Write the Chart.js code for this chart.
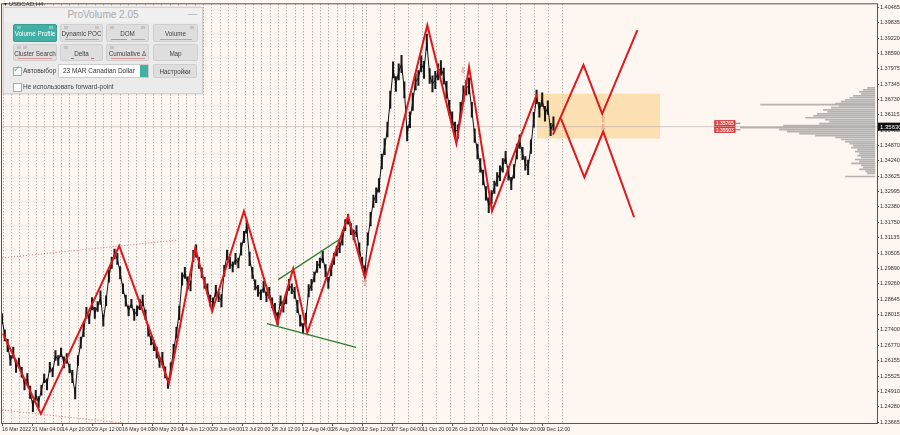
<!DOCTYPE html>
<html>
<head>
<meta charset="utf-8">
<script src="https://cdn.jsdelivr.net/npm/chart.js@4.4.1/dist/chart.umd.min.js"></script>
<style>
  html, body { margin: 0; padding: 0; background: #fdf6f1; }
  #wrap { position: relative; width: 900px; height: 435px; overflow: hidden; }
  #chart { position: absolute; left: 0; top: 0; }
  .sym { position: absolute; left: 4px; top: 0px; font: 6px "Liberation Sans", Arial, sans-serif; color: #333; }
  .panel { position: absolute; left: 3px; top: 7px; width: 198px; height: 85px; background: #ebebeb;
           border: 1px solid #d2d2d2; box-shadow: 0 0 2px rgba(0,0,0,0.2); font-family: "Liberation Sans", Arial, sans-serif; }
  .title { position: absolute; left: 0; top: 0; width: 198px; height: 14px; background: #f0f0f0;
           text-align: center; font-size: 10px; line-height: 14px; color: #a9a9a9; }
  .min { position: absolute; right: 5px; top: 1px; font-size: 9px; color: #999; }
  .btn { position: absolute; background: #dedede; border: 1px solid #cfcfcf; border-radius: 2px; font-size: 6.3px; color: #444;
         text-align: center; box-sizing: border-box; white-space: nowrap; }
  .btn span { position: absolute; left: 0; right: 0; top: 5px; }
  .btn i { position: absolute; bottom: 1px; height: 1px; background: #d99; }
  .btn b { position: absolute; top: 1px; width: 4px; height: 3px; background: #c4c4c4; }
  .btn.on { background: #43b0a6; border-color: #3a9e95; color: #fff; }
  .chk { position: absolute; width: 7px; height: 7px; background: #fff; border: 1px solid #aaa; }
  .lbl { position: absolute; font-size: 6.5px; color: #444; white-space: nowrap; }
  .sel { position: absolute; left: 54px; top: 56px; width: 91px; height: 14px; background: #fff; border: 1px solid #ccc;
         box-sizing: border-box; font-size: 6.5px; color: #333; line-height: 12px; padding-left: 4px; white-space: nowrap; }
  .spin { position: absolute; right: 0; top: 0; width: 8px; height: 12px; background: #43b0a6; }
</style>
</head>
<body>
<div id="wrap">
  <canvas id="chart" width="900" height="435"></canvas>
  <div class="sym">▾ USDCAD,H4</div>
  <div class="panel">
    <div class="title">ProVolume 2.05</div>
    <div class="min">—</div>
    <div class="btn on" style="left:9px;top:16px;width:44px;height:18px;"><b style="left:3px;background:#7cc9c2"></b><b style="right:3px;background:#7cc9c2"></b><span>Volume Profile</span></div>
    <div class="btn" style="left:56px;top:16px;width:43px;height:18px;"><b style="left:3px"></b><b style="right:3px"></b><span>Dynamic POC</span><i style="left:4px;width:34px;"></i></div>
    <div class="btn" style="left:102px;top:16px;width:43px;height:18px;"><b style="left:3px"></b><b style="right:3px"></b><span>DOM</span><i style="left:4px;width:16px;background:#7b7;"></i><i style="left:24px;width:14px;"></i></div>
    <div class="btn" style="left:149px;top:16px;width:45px;height:18px;"><b style="right:3px"></b><span>Volume</span><i style="left:6px;width:32px;"></i></div>
    <div class="btn" style="left:9px;top:36px;width:44px;height:17px;"><b style="left:3px"></b><b style="left:9px"></b><span>Cluster Search</span><i style="left:4px;width:34px;"></i></div>
    <div class="btn" style="left:56px;top:36px;width:43px;height:17px;"><b style="left:3px"></b><span>Delta</span><i style="left:10px;width:3px;background:#686;"></i><i style="left:30px;width:3px;background:#c66;"></i></div>
    <div class="btn" style="left:102px;top:36px;width:43px;height:17px;"><b style="left:3px"></b><span>Cumulative Δ</span><i style="left:4px;width:34px;"></i></div>
    <div class="btn" style="left:149px;top:36px;width:45px;height:17px;"><span>Map</span></div>
    <div class="chk" style="left:9px;top:59px;"></div>
    <div class="lbl" style="left:9px;top:56px;color:#43b0a6;font-size:9px;">✓</div>
    <div class="lbl" style="left:19px;top:59px;">Автовыбор</div>
    <div class="sel">23 MAR Canadian Dollar<div class="spin"></div></div>
    <div class="btn" style="left:149px;top:56px;width:44px;height:14px;"><span style="top:3px;">Настройки</span></div>
    <div class="chk" style="left:9px;top:75px;"></div>
    <div class="lbl" style="left:19px;top:75px;">Не использовать forward-point</div>
  </div>
</div>
<script>
// time axis: one label every 64 H4 bars
const timeLabels = ['16 Mar 2022', '31 Mar 04:00', '14 Apr 20:00', '29 Apr 12:00', '16 May 04:00', '30 May 20:00',
  '14 Jun 12:00', '29 Jun 04:00', '13 Jul 20:00', '28 Jul 12:00', '12 Aug 04:00', '26 Aug 20:00', '12 Sep 12:00',
  '27 Sep 04:00', '11 Oct 20:00', '26 Oct 12:00', '10 Nov 04:00', '24 Nov 20:00', '9 Dec 12:00'];
const barsPerLabel = 64;

const priceTicks = [1.40465, 1.39835, 1.39220, 1.38590, 1.37975, 1.37345, 1.36730, 1.36115, 1.35485, 1.34870,
  1.34240, 1.33625, 1.32995, 1.32380, 1.31750, 1.31135, 1.30505, 1.29890, 1.29260, 1.28645, 1.28015, 1.27400,
  1.26770, 1.26155, 1.25525, 1.24910, 1.24280, 1.23665];

// USDCAD price, one value every 6 bars
const priceStep = 6;
const prices = [1.2785, 1.2717, 1.2676, 1.2616, 1.2648, 1.2592, 1.2608, 1.2568, 1.2519, 1.2543,
  1.2487, 1.2431, 1.2475, 1.2447, 1.2495, 1.2543, 1.2519, 1.2588, 1.2568, 1.2636,
  1.2616, 1.2648, 1.2608, 1.2624, 1.2584, 1.2551, 1.2483, 1.2616, 1.2688, 1.2737,
  1.2809, 1.2785, 1.2846, 1.2809, 1.2834, 1.2870, 1.2777, 1.2858, 1.2958, 1.3011,
  1.3047, 1.3027, 1.2971, 1.2906, 1.2858, 1.2817, 1.2846, 1.2801, 1.2817, 1.2842,
  1.2858, 1.2801, 1.2737, 1.2696, 1.2676, 1.2648, 1.2608, 1.2624, 1.2568, 1.2523,
  1.2584, 1.2656, 1.2729, 1.2809, 1.2946, 1.2971, 1.2930, 1.2918, 1.3039, 1.3059,
  1.3011, 1.2971, 1.2930, 1.2906, 1.2858, 1.2850, 1.2898, 1.2874, 1.2858, 1.2979,
  1.3043, 1.3011, 1.2995, 1.3027, 1.3011, 1.3067, 1.3116, 1.3156, 1.3027, 1.2971,
  1.2922, 1.2898, 1.2882, 1.2914, 1.2874, 1.2890, 1.2850, 1.2825, 1.2785, 1.2858,
  1.2834, 1.2866, 1.2922, 1.2906, 1.2890, 1.2834, 1.2777, 1.2745, 1.2785, 1.2898,
  1.2922, 1.2954, 1.2995, 1.3011, 1.3035, 1.2979, 1.2930, 1.2979, 1.3027, 1.3059,
  1.3075, 1.3108, 1.3164, 1.3188, 1.3148, 1.3124, 1.3140, 1.3067, 1.3011, 1.2979,
  1.3108, 1.3188, 1.3261, 1.3285, 1.3325, 1.3422, 1.3482, 1.3551, 1.3672, 1.3793,
  1.3736, 1.3785, 1.3817, 1.3712, 1.3535, 1.3591, 1.3664, 1.3744, 1.3760, 1.3817,
  1.3793, 1.3905, 1.3768, 1.3736, 1.3752, 1.3785, 1.3801, 1.3768, 1.3712, 1.3640,
  1.3591, 1.3551, 1.3543, 1.3631, 1.3696, 1.3720, 1.3728, 1.3631, 1.3527, 1.3462,
  1.3406, 1.3357, 1.3293, 1.3245, 1.3277, 1.3317, 1.3349, 1.3374, 1.3406, 1.3438,
  1.3374, 1.3333, 1.3382, 1.3462, 1.3502, 1.3454, 1.3414, 1.3398, 1.3482, 1.3591,
  1.3684, 1.3631, 1.3672, 1.3615, 1.3640, 1.3551, 1.3575];

// high-low spread around each price point, in pips
const spreads = [40, 45, 50, 40, 45, 50, 35, 40, 45, 40, 50, 45, 40, 45, 40, 35, 45, 40, 35, 40,
  40, 35, 45, 40, 35, 50, 45, 40, 45, 50, 45, 40, 50, 45, 40, 55, 45, 40, 50, 45,
  40, 45, 50, 40, 45, 40, 35, 45, 40, 40, 45, 40, 45, 35, 40, 45, 40, 50, 45, 40,
  45, 50, 45, 55, 50, 45, 50, 40, 45, 50, 45, 40, 45, 40, 45, 40, 45, 40, 50, 45,
  40, 45, 40, 45, 40, 50, 45, 50, 55, 45, 40, 45, 40, 45, 40, 45, 40, 45, 50, 40,
  45, 40, 45, 40, 45, 50, 45, 40, 45, 50, 45, 40, 45, 40, 45, 50, 45, 40, 45, 40,
  45, 50, 45, 40, 45, 40, 45, 50, 45, 40, 50, 55, 50, 60, 55, 60, 65, 60, 70, 65,
  60, 65, 70, 65, 60, 65, 70, 65, 60, 65, 70, 65, 60, 65, 70, 65, 60, 65, 70, 60,
  65, 60, 55, 60, 65, 60, 65, 60, 55, 60, 55, 60, 55, 60, 55, 50, 55, 60, 55, 50,
  55, 50, 55, 60, 55, 50, 55, 60, 55, 60, 55, 60, 55, 60, 55, 50, 55];

// zigzag swings [bar, price]
const zigBars   = [2, 83, 250, 356, 412, 448, 516, 587, 621, 651, 738, 774, 907, 969, 996, 1045, 1141];
const zigPrices = [1.2725, 1.2399, 1.3080, 1.2524, 1.3072, 1.2814, 1.3221, 1.2766, 1.2987, 1.2729, 1.3201,
  1.2951, 1.3974, 1.3495, 1.3805, 1.3221, 1.3696];

// projected paths
const upBars = [1175, 1240, 1280, 1355];
const upPrices = [1.3531, 1.3813, 1.3615, 1.3954];
const downBars = [1192, 1242, 1282, 1348];
const downPrices = [1.3595, 1.3358, 1.3543, 1.3196];

// channel lines
const chanUpper = [[0, 1.3031], [376, 1.3104]];
const chanLower = [[0, 1.2415], [258, 1.2362]];
const wedgeUpper = [[589, 1.2943], [721, 1.3108]];
const wedgeLower = [[565, 1.2765], [755, 1.2669]];

// value area box
const boxBars = [1141, 1404];
const boxTop = 1.3696;
const boxBottom = 1.3515;

const lastPrice = 1.3563;
const levelLabels = [1.35765, 1.35503];
const levelBars = [1519, 1564];

// arrows [bar, price, glyph]
const arrowBars = [983, 774, 1282, 1282];
const arrowPrices = [1.3789, 1.2926, 1.3591, 1.3559];
const arrowGlyphs = ['⇩', '⇧', '⇧', '⇩'];

// volume profile: price level and length in bars, anchored at right edge
const volPrices = [1.3720, 1.3712, 1.3704, 1.3696, 1.3688, 1.3680, 1.3672, 1.3664, 1.3656, 1.3652, 1.3648,
  1.3640, 1.3631, 1.3623, 1.3615, 1.3607, 1.3599, 1.3591, 1.3583, 1.3575, 1.3567, 1.3559, 1.3551, 1.3543,
  1.3535, 1.3527, 1.3519, 1.3511, 1.3502, 1.3494, 1.3486, 1.3478, 1.3470, 1.3462, 1.3454, 1.3446, 1.3438,
  1.3430, 1.3422, 1.3414, 1.3406, 1.3398, 1.3390, 1.3382, 1.3374, 1.3361];
const volLengths = [17, 26, 34, 30, 47, 55, 64, 73, 85, 245, 77, 94, 111, 102, 124, 132, 149, 107, 98, 119,
  196, 288, 205, 188, 162, 128, 85, 73, 64, 55, 47, 51, 38, 43, 34, 38, 30, 43, 34, 51, 30, 26, 34, 21, 17, 64];
const volRight = 1862;

const xMax = 1866;
const yMin = 1.23625, yMax = 1.40586;

function pts(bars, vals) {
  return bars.map((b, i) => ({ x: b, y: vals[i] }));
}

const volData = [];
volPrices.forEach((p, i) => {
  volData.push({ x: volRight - volLengths[i], y: p }, { x: volRight, y: p }, { x: volRight, y: null });
});

const rangeData = prices.map((p, i) => ({ x: i * priceStep, y: [p - spreads[i] / 20000, p + spreads[i] / 20000] }));

const separators = [];
for (let b = 1.5; b < 770; b += 17.8) separators.push(b);
for (let b = 776; b < 1200; b += 29.9) separators.push(b);

const overlay = {
  id: 'overlay',
  beforeDatasetsDraw(chart) {
    const { ctx, chartArea: a, scales: { x } } = chart;
    ctx.save();
    ctx.strokeStyle = 'rgba(80,80,80,0.6)';
    ctx.lineWidth = 1;
    ctx.setLineDash([1, 2]);
    separators.forEach(b => {
      const px = Math.round(x.getPixelForValue(b)) + 0.5;
      ctx.beginPath(); ctx.moveTo(px, a.top); ctx.lineTo(px, a.bottom); ctx.stroke();
    });
    ctx.restore();
  },
  afterDatasetsDraw(chart) {
    const { ctx, chartArea: a, scales: { x, y } } = chart;
    ctx.save();
    ctx.fillStyle = '#e46a6a';
    ctx.font = '8px "DejaVu Sans"';
    ctx.textAlign = 'center';
    ctx.textBaseline = 'middle';
    arrowBars.forEach((b, i) => {
      ctx.fillText(arrowGlyphs[i], x.getPixelForValue(b), y.getPixelForValue(arrowPrices[i]));
    });
    ctx.font = '5px "Liberation Sans"';
    levelLabels.forEach(p => {
      const x0 = x.getPixelForValue(levelBars[0]), x1 = x.getPixelForValue(levelBars[1]);
      const py = y.getPixelForValue(p);
      ctx.fillStyle = '#e25555';
      ctx.fillRect(x0, py - 3, x1 - x0, 6);
      ctx.strokeStyle = '#c83030';
      ctx.lineWidth = 0.8;
      ctx.strokeRect(x0 + 0.5, py - 3 + 0.5, x1 - x0 - 1, 5);
      ctx.beginPath(); ctx.moveTo(x1, py); ctx.lineTo(x1 + 5, py); ctx.stroke();
      ctx.fillStyle = '#fff';
      ctx.fillText(p.toFixed(5), (x0 + x1) / 2, py + 0.5);
    });
    ctx.strokeStyle = '#555';
    ctx.lineWidth = 1;
    ctx.strokeRect(a.left - 0.5, a.top - 0.5, a.right - a.left + 1, a.bottom - a.top + 1);
    ctx.restore();
  },
  afterDraw(chart) {
    const { ctx, chartArea: a, scales: { y } } = chart;
    const py = y.getPixelForValue(lastPrice);
    ctx.save();
    ctx.fillStyle = '#111';
    ctx.fillRect(a.right + 1, py - 4, 23, 8);
    ctx.fillStyle = '#fff';
    ctx.font = '6px "Liberation Sans"';
    ctx.textBaseline = 'middle';
    ctx.fillText(lastPrice.toFixed(5), a.right + 3, py + 0.5);
    ctx.restore();
  }
};

const line = (data, color, width, order, extra) => Object.assign({
  data, borderColor: color, borderWidth: width, pointRadius: 0, tension: 0, fill: false, order
}, extra || {});

new Chart(document.getElementById('chart'), {
  type: 'line',
  data: {
    datasets: [
      line([{ x: boxBars[0], y: boxTop }, { x: boxBars[1], y: boxTop }], 'rgba(0,0,0,0)', 0, 20,
        { fill: { value: boxBottom }, backgroundColor: 'rgba(252,206,125,0.55)' }),
      line([{ x: 0, y: lastPrice }, { x: xMax, y: lastPrice }], 'rgba(170,160,160,0.5)', 1, 19),
      line(volData, 'rgba(150,150,150,0.7)', 1.7, 18, { spanGaps: false }),
      line(chanUpper.map(p => ({ x: p[0], y: p[1] })), 'rgba(215,70,70,0.75)', 1, 17, { borderDash: [1, 2] }),
      line(chanLower.map(p => ({ x: p[0], y: p[1] })), 'rgba(215,70,70,0.75)', 1, 17, { borderDash: [1, 2] }),
      { type: 'bar', data: rangeData, backgroundColor: '#1a1a1a', borderWidth: 0, barThickness: 1.4, order: 11 },
      line(prices.map((v, i) => ({ x: i * priceStep, y: v })), '#111', 1, 10),
      line(wedgeUpper.map(p => ({ x: p[0], y: p[1] })), '#2f7d32', 1.4, 5),
      line(wedgeLower.map(p => ({ x: p[0], y: p[1] })), '#2f7d32', 1.4, 5),
      line(pts(zigBars, zigPrices), '#e3161c', 2, 2),
      line(pts(upBars, upPrices), '#e3161c', 2, 1),
      line(pts(downBars, downPrices), '#e3161c', 2, 1)
    ]
  },
  options: {
    responsive: false,
    animation: false,
    devicePixelRatio: 1,
    layout: { padding: { left: 2, top: 2, right: 0, bottom: 0 } },
    plugins: { legend: { display: false }, tooltip: { enabled: false } },
    scales: {
      x: {
        type: 'linear', min: 0, max: xMax, offset: false,
        afterFit: s => { s.height = 12; },
        afterBuildTicks: s => { s.ticks = timeLabels.map((_, i) => ({ value: i * barsPerLabel })); },
        grid: { drawOnChartArea: false, tickLength: 3, color: '#555', offset: false },
        border: { display: false },
        ticks: {
          autoSkip: false, maxRotation: 0, align: 'start', padding: 0,
          color: '#333', font: { family: '"Liberation Sans", Arial, sans-serif', size: 5.2 },
          callback: (v, i) => timeLabels[i]
        }
      },
      y: {
        type: 'linear', position: 'right', min: yMin, max: yMax,
        afterFit: s => { s.width = 23; },
        afterBuildTicks: s => { s.ticks = priceTicks.map(v => ({ value: v })); },
        grid: { drawOnChartArea: false, tickLength: 2, color: '#555' },
        border: { display: false },
        ticks: {
          autoSkip: false, padding: 1, color: '#333', font: { family: '"Liberation Sans", Arial, sans-serif', size: 5.5 },
          callback: v => v.toFixed(5)
        }
      }
    }
  },
  plugins: [overlay]
});
</script>
</body>
</html>
